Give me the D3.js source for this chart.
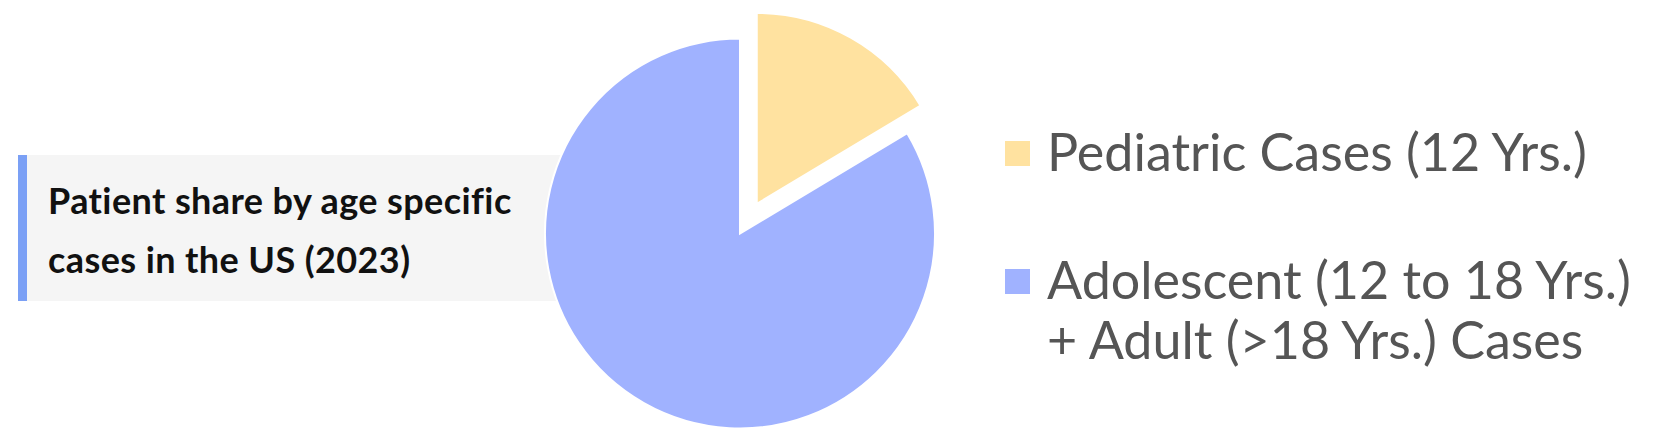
<!DOCTYPE html>
<html>
<head>
<meta charset="utf-8">
<script src="https://cdn.jsdelivr.net/npm/d3@7"></script>
<style>
  body { margin: 0; background: #fff; }
  svg { display: block; font-family: Lato, "Open Sans", sans-serif; }
</style>
</head>
<body>
<div class="chart"></div>
<script>
var width = 1667;
var height = 438;

// data
var categories = ["Pediatric Cases (12 Yrs.)", "Adolescent (12 to 18 Yrs.) + Adult (>18 Yrs.) Cases"];
var shares = [16.4, 83.6];
var colors = ["#FFE2A0", "#A0B2FF"];
var titleLines = ["Patient share by age specific", "cases in the US (2023)"];

var svg = d3.select(".chart").append("svg")
    .attr("width", width)
    .attr("height", height);

// title box
svg.append("rect")
    .attr("x", 18)
    .attr("y", 155)
    .attr("width", 560)
    .attr("height", 146)
    .attr("fill", "#F5F5F5");

svg.append("rect")
    .attr("x", 18)
    .attr("y", 155)
    .attr("width", 9)
    .attr("height", 146)
    .attr("fill", "#7BA0F5");

svg.append("g").selectAll("text")
    .data(titleLines)
    .join("text")
    .attr("x", 48)
    .attr("y", function(d, i) { return 214 + i * 59; })
    .attr("font-size", 36)
    .attr("font-weight", 700)
    .attr("letter-spacing", 0.4)
    .attr("fill", "#111")
    .text(function(d) { return d; });

// pie
var cx = 740, cy = 233.5, r = 195;
var pie = d3.pie().sort(null).value(function(d) { return d; });
var arcs = pie(shares);
var arc = d3.arc().innerRadius(0).outerRadius(r);
var arcOut = d3.arc().innerRadius(0).outerRadius(r - 4);

var g = svg.append("g").attr("transform", "translate(" + cx + "," + cy + ")");

g.selectAll("path")
    .data(arcs)
    .join("path")
    .attr("d", function(d, i) { return i == 0 ? arcOut(d) : arc(d); })
    .attr("transform", function(d, i) {
        if (i != 0) return null;
        var a = (d.startAngle + d.endAngle) / 2;
        return "translate(" + (Math.sin(a) * 34) + "," + (-Math.cos(a) * 34) + ")";
    })
    .attr("fill", function(d, i) { return colors[i]; })
    .attr("stroke", "#fff")
    .attr("stroke-width", 2);

// legend
var legend = svg.append("g").selectAll("g")
    .data(categories)
    .join("g")
    .attr("transform", function(d, i) { return "translate(1005," + (141 + i * 128) + ")"; });

legend.append("rect")
    .attr("width", 25)
    .attr("height", 25)
    .attr("fill", function(d, i) { return colors[i]; });

legend.append("text")
    .attr("x", 42)
    .attr("y", 30)
    .attr("font-size", 52)
    .attr("fill", "#555")
    .selectAll("tspan")
    .data(function(d) { return d.split(" + ").map(function(s, j) { return j ? "+ " + s : s; }); })
    .join("tspan")
    .attr("x", 42)
    .attr("dy", function(d, j) { return j ? 60 : 0; })
    .text(function(d) { return d; });
</script>
</body>
</html>
